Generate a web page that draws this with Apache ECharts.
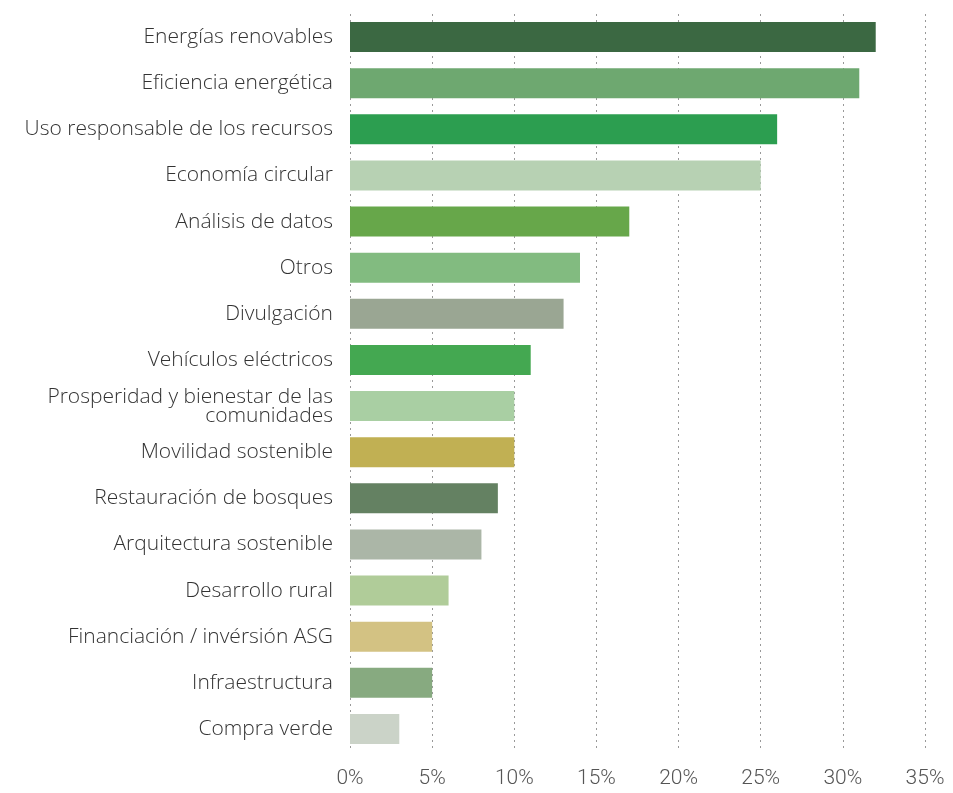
<!DOCTYPE html>
<html>
<head>
<meta charset="utf-8">
<script src="https://cdn.jsdelivr.net/npm/echarts@6/dist/echarts.min.js"></script>
<style>html,body{margin:0;padding:0;background:#fff}#c{width:953px;height:793px}</style>
</head>
<body>
<div id="c"></div>
<script>
const categories = [
  "Energías renovables",
  "Eficiencia energética",
  "Uso responsable de los recursos",
  "Economía circular",
  "Análisis de datos",
  "Otros",
  "Divulgación",
  "Vehículos eléctricos",
  "Prosperidad y bienestar de las\ncomunidades",
  "Movilidad sostenible",
  "Restauración de bosques",
  "Arquitectura sostenible",
  "Desarrollo rural",
  "Financiación / invérsión ASG",
  "Infraestructura",
  "Compra verde"
];
const values = [32, 31, 26, 25, 17, 14, 13, 11, 10, 10, 9, 8, 6, 5, 5, 3];
const colors = ["#3b6842","#6ea870","#2c9e50","#b7d1b3","#67a74a","#82bb80","#9aa693","#44a851",
                "#a9cfa3","#c1b053","#648162","#abb6a7","#b0cc99","#d3c283","#87aa80","#cbd3c8"];
const xTicks = [0, 5, 10, 15, 20, 25, 30, 35];

const chart = echarts.init(document.getElementById('c'), null, {renderer: 'canvas'});
chart.setOption({
  animation: false,
  grid: {left: 350, right: 28, top: 14, bottom: 41, containLabel: false},
  xAxis: {
    type: 'value',
    min: xTicks[0], max: xTicks[xTicks.length - 1], interval: 5,
    axisLine: {show: false}, axisTick: {show: false},
    splitLine: {show: true, lineStyle: {type: [2, 4], color: '#999', width: 1}},
    axisLabel: {formatter: '{value}%', color: '#555', fontSize: 21, fontWeight: 300, fontFamily: 'Roboto', margin: 16}
  },
  yAxis: {
    type: 'category', inverse: true, data: categories,
    axisLine: {show: false}, axisTick: {show: false},
    axisLabel: {color: '#333', fontSize: 21, fontWeight: 300, fontFamily: 'Open Sans', margin: 17, lineHeight: 19, align: 'right'}
  },
  series: [{
    type: 'bar', barWidth: 30,
    data: values.map((v, i) => ({value: v, itemStyle: {color: colors[i]}}))
  }]
});
</script>
</body>
</html>
